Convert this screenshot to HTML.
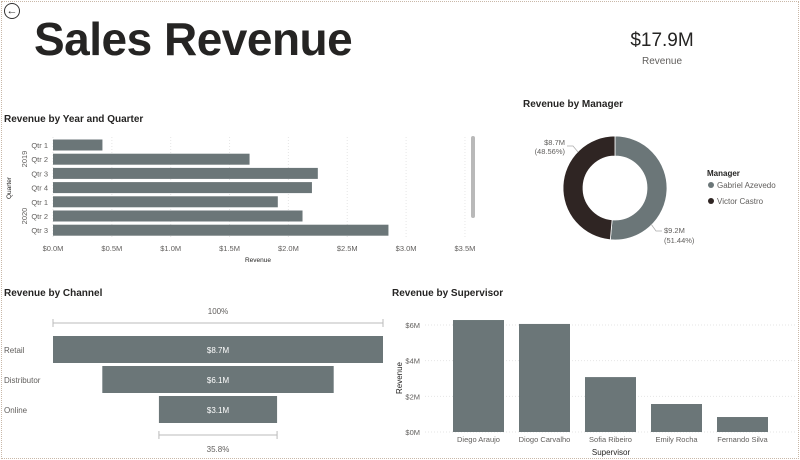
<!DOCTYPE html>
<html><head><meta charset="utf-8"><style>
body{margin:0;width:800px;height:460px;background:#fff;font-family:"Liberation Sans",sans-serif;overflow:hidden;position:relative}
.t{position:absolute;font-size:10px;color:#252423;font-weight:bold}
svg{position:absolute;left:0;top:0}
</style></head><body>
<div style="position:absolute;left:1px;top:1px;width:796px;height:456px;border:1px dotted #c9b8a8"></div>
<div style="position:absolute;left:4px;top:3px;width:14px;height:14px;border:1.5px solid #333;border-radius:50%;font-size:11px;line-height:14px;text-align:center;color:#333">←</div>
<div style="position:absolute;left:34px;top:12px;font-size:46px;font-weight:bold;color:#252423;letter-spacing:-0.5px">Sales Revenue</div>
<div style="position:absolute;left:600px;top:30px;width:124px;text-align:center;font-size:19px;color:#252423">$17.9M</div>
<div style="position:absolute;left:600px;top:56px;width:124px;text-align:center;font-size:10px;color:#605e5c">Revenue</div>
<div class="t" style="left:4px;top:114px">Revenue by Year and Quarter</div>
<div class="t" style="left:523px;top:99px">Revenue by Manager</div>
<div class="t" style="left:4px;top:288px">Revenue by Channel</div>
<div class="t" style="left:392px;top:288px">Revenue by Supervisor</div>
<svg id="s" width="800" height="460" font-family="Liberation Sans, sans-serif"></svg>
<script>
const qLabels=["Qtr 1","Qtr 2","Qtr 3","Qtr 4","Qtr 1","Qtr 2","Qtr 3"];
const qValues=[0.42,1.67,2.25,2.2,1.91,2.12,2.85];
const qTicks=[0,0.5,1,1.5,2,2.5,3,3.5];
const mgrNames=["Gabriel Azevedo","Victor Castro"];
const mgrValues=[9.2,8.685];
const chNames=["Retail","Distributor","Online"];
const chValues=[8.7,6.1,3.115];
const supNames=["Diego Araujo","Diogo Carvalho","Sofia Ribeiro","Emily Rocha","Fernando Silva"];
const supValues=[6.28,6.06,3.08,1.57,0.84];
const supTicks=[0,2,4,6];
const G="#6b7678",D="#2f2523",NS="http://www.w3.org/2000/svg",s=document.getElementById('s');
function el(t,a,txt){const e=document.createElementNS(NS,t);for(const k in a)e.setAttribute(k,a[k]);if(txt!=null)e.textContent=txt;s.appendChild(e);return e;}
// quarter chart
const qx=v=>53+v*117.7, qy=i=>145+i*14.2;
qTicks.forEach(t=>{const g=el('line',{x1:qx(t),x2:qx(t),y1:137,y2:238,stroke:'#e6e6e6','stroke-dasharray':'1,2'});
const l=el('text',{x:qx(t),y:251,'font-size':7.5,fill:'#605e5c','text-anchor':'middle'},'$'+t.toFixed(1)+'M');});
qValues.forEach((v,i)=>{const r=el('rect',{x:qx(0),y:qy(i)-5.5,width:qx(v)-qx(0),height:11,fill:G});
const l=el('text',{x:48,y:qy(i)+3,'font-size':7.5,fill:'#605e5c','text-anchor':'end'},qLabels[i]);});
let e;
e=el('text',{x:0,y:0,'font-size':7.5,fill:'#605e5c','text-anchor':'middle',transform:'translate(27,159) rotate(-90)'},'2019');
e=el('text',{x:0,y:0,'font-size':7.5,fill:'#605e5c','text-anchor':'middle',transform:'translate(27,216) rotate(-90)'},'2020');
e=el('text',{x:0,y:0,'font-size':6.5,fill:'#252423','text-anchor':'middle',transform:'translate(11,188) rotate(-90)'},'Quarter');
e=el('text',{x:258,y:262,'font-size':6.5,fill:'#252423','text-anchor':'middle'},'Revenue');
e=el('rect',{x:471,y:136,width:4,height:82,rx:2,fill:'#b9b9b9'});
// donut
const cx=615,cy=188,R=52,r=32,tot=mgrValues.reduce((a,b)=>a+b,0);let a0=-Math.PI/2;
const cols=[G,D];
mgrValues.forEach((v,i)=>{const a1=a0+v/tot*2*Math.PI,lg=(a1-a0)>Math.PI?1:0;
const p=`M${cx+R*Math.cos(a0)},${cy+R*Math.sin(a0)} A${R},${R} 0 ${lg} 1 ${cx+R*Math.cos(a1)},${cy+R*Math.sin(a1)} L${cx+r*Math.cos(a1)},${cy+r*Math.sin(a1)} A${r},${r} 0 ${lg} 0 ${cx+r*Math.cos(a0)},${cy+r*Math.sin(a0)} Z`;
const sl=el('path',{d:p,fill:cols[i],stroke:'#fff','stroke-width':0.8});a0=a1;});
e=el('text',{x:565,y:145,'font-size':7.5,fill:'#605e5c','text-anchor':'end'},'$'+mgrValues[1].toFixed(1)+'M');
e=el('text',{x:565,y:154,'font-size':7.5,fill:'#605e5c','text-anchor':'end'},'('+(mgrValues[1]/tot*100).toFixed(2)+'%)');
el('polyline',{points:'567,146 573,146 578,152',fill:'none',stroke:'#aaa','stroke-width':0.7});
e=el('text',{x:664,y:233,'font-size':7.5,fill:'#605e5c'},'$'+mgrValues[0].toFixed(1)+'M');
e=el('text',{x:664,y:243,'font-size':7.5,fill:'#605e5c'},'('+(mgrValues[0]/tot*100).toFixed(2)+'%)');
el('polyline',{points:'651,224 656,231 662,231',fill:'none',stroke:'#aaa','stroke-width':0.7});
e=el('text',{x:707,y:176,'font-size':8,'font-weight':'bold',fill:'#252423'},'Manager');
mgrNames.forEach((n,i)=>{const y=188+i*16;el('circle',{cx:711,cy:y-3,r:3,fill:cols[i]});const t=el('text',{x:717,y:y,'font-size':8,fill:'#605e5c'},n);});
// funnel
const fc=218,fw=v=>v/chValues[0]*330;
chValues.forEach((v,i)=>{const w=fw(v),y=336+i*30;const b=el('rect',{x:fc-w/2,y:y,width:w,height:27,fill:G});
const t=el('text',{x:fc,y:y+17,'font-size':8,fill:'#fff','text-anchor':'middle'},'$'+v.toFixed(1)+'M');
const l=el('text',{x:4,y:y+17,'font-size':8,fill:'#605e5c'},chNames[i]);});
function br(x1,x2,y){el('line',{x1:x1,x2:x2,y1:y,y2:y,stroke:'#bbb'});el('line',{x1:x1,x2:x1,y1:y-4,y2:y+4,stroke:'#bbb'});el('line',{x1:x2,x2:x2,y1:y-4,y2:y+4,stroke:'#bbb'});}
br(fc-165,fc+165,323);br(fc-fw(chValues[2])/2,fc+fw(chValues[2])/2,435);
e=el('text',{x:fc,y:314,'font-size':8,fill:'#605e5c','text-anchor':'middle'},'100%');
e=el('text',{x:fc,y:452,'font-size':8,fill:'#605e5c','text-anchor':'middle'},(chValues[2]/chValues[0]*100).toFixed(1)+'%');
// supervisor
const sy=v=>432-v*17.83,sx=i=>453+i*66;
supTicks.forEach(t=>{const g=el('line',{x1:425,x2:795,y1:sy(t),y2:sy(t),stroke:'#e6e6e6','stroke-dasharray':'1,2'});
const l=el('text',{x:420,y:sy(t)+3,'font-size':7.5,fill:'#605e5c','text-anchor':'end'},'$'+t+'M');});
supValues.forEach((v,i)=>{const b=el('rect',{x:sx(i),y:sy(v),width:51,height:sy(0)-sy(v),fill:G});
const l=el('text',{x:sx(i)+25.5,y:442,'font-size':7.5,fill:'#605e5c','text-anchor':'middle'},supNames[i]);});
e=el('text',{x:0,y:0,'font-size':8,fill:'#252423','text-anchor':'middle',transform:'translate(402,378) rotate(-90)'},'Revenue');
e=el('text',{x:611,y:455,'font-size':8,fill:'#252423','text-anchor':'middle'},'Supervisor');
</script>
</body></html>
